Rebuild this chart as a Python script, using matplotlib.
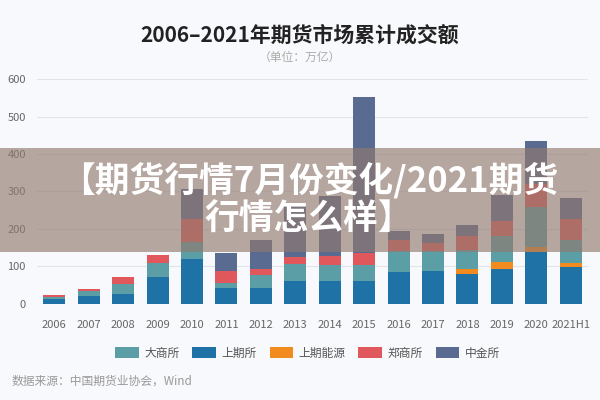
import matplotlib
matplotlib.use("Agg")
import matplotlib.pyplot as plt
from matplotlib.patches import Rectangle
import numpy as np

plt.rcParams['font.family'] = ['Noto Sans CJK SC', 'DejaVu Sans']

years = ['2006', '2007', '2008', '2009', '2010', '2011', '2012', '2013',
         '2014', '2015', '2016', '2017', '2018', '2019', '2020', '2021H1']
# 单位：万亿
shfe = [12.6, 21, 26, 71, 120, 41, 41, 59, 61, 61, 83, 87, 79, 93, 138, 97]      # 上期所
ine = [0, 0, 0, 0, 0, 0, 0, 0, 0, 0, 0, 0, 13, 18, 13, 11]                      # 上期能源
dce = [6, 12.6, 27, 37, 44, 15, 34, 47, 41, 42, 57, 53, 50, 69, 108, 63]         # 大商所
zce = [3, 6, 17, 22, 61, 32, 18, 18, 24, 31, 31, 23, 39, 40, 60, 54]             # 郑商所
cffex = [0, 0, 0, 0, 81, 47, 78, 143, 163, 418, 22, 24, 28, 70, 115, 58]         # 中金所
yticks = [0, 100, 200, 300, 400, 500, 600]

c_dce = '#5b9ea6'
c_shfe = '#1f72a6'
c_ine = '#f28b1f'
c_zce = '#e0585b'
c_cffex = '#5a6b92'
bg = '#f8f9fc'

fig = plt.figure(figsize=(6, 4), dpi=100, facecolor=bg)
ax = fig.add_axes([37/600, 1-303.5/400, (588-37)/600, (303.5-79.3)/400])
ax.set_facecolor(bg)

x = np.arange(len(years))
w = 0.64
series = [(shfe, c_shfe, '上期所'), (ine, c_ine, '上期能源'), (dce, c_dce, '大商所'),
          (zce, c_zce, '郑商所'), (cffex, c_cffex, '中金所')]
bottom = np.zeros(len(years))
handles = {}
for vals, col, lab in series:
    v = np.array(vals, dtype=float)
    b = ax.bar(x, v, w, bottom=bottom, color=col, label=lab, zorder=3)
    handles[lab] = b
    bottom += v

ax.set_xlim(-0.5, len(years) - 0.5)
ax.set_ylim(0, 600)
ax.set_yticks(yticks)
ax.set_xticks(x)
ax.set_xticklabels(years)
ax.tick_params(axis='both', length=0, labelsize=8, colors='#666666')
ax.tick_params(axis='x', pad=12)
ax.tick_params(axis='y', pad=8)
for s in ax.spines.values():
    s.set_visible(False)
ax.grid(axis='y', color='#e2e4ea', linewidth=0.8, zorder=0)
ax.set_axisbelow(True)

fig.text(0.5, 1-35/400, '2006–2021年期货市场累计成交额', ha='center', va='center',
         fontsize=15, fontweight='bold', color='#222222')
fig.text(0.5, 1-57/400, '（单位：万亿）', ha='center', va='center',
         fontsize=8.5, color='#aaaaaa')

order = ['大商所', '上期所', '上期能源', '郑商所', '中金所']
leg = fig.legend([handles[k] for k in order], order, loc='center',
                 bbox_to_anchor=(0.5 + 7.5/600, 1-353/400), ncol=5, frameon=False,
                 fontsize=8.5, handlelength=2.0, handleheight=1.0,
                 columnspacing=1.1, handletextpad=0.45)
for t in leg.get_texts():
    t.set_color('#555555')

fig.text(12/600, 1-381/400, '数据来源：中国期货业协会，Wind', ha='left', va='center',
         fontsize=8.5, color='#999999')

# overlay banner
fig.patches.append(Rectangle((0, 1-252/400), 1, (252-147.5)/400,
                             transform=fig.transFigure, facecolor='#917a6f',
                             alpha=0.65, edgecolor='none', zorder=10))
fig.text(309/600, 1-180/400, '【期货行情7月份变化/2021期货', ha='center', va='center',
         fontsize=25, fontweight='bold', color='white', zorder=11)
fig.text(309/600, 1-219/400, '行情怎么样】', ha='center', va='center',
         fontsize=25, fontweight='bold', color='white', zorder=11)

fig.savefig('out.png', dpi=100, facecolor=bg)
